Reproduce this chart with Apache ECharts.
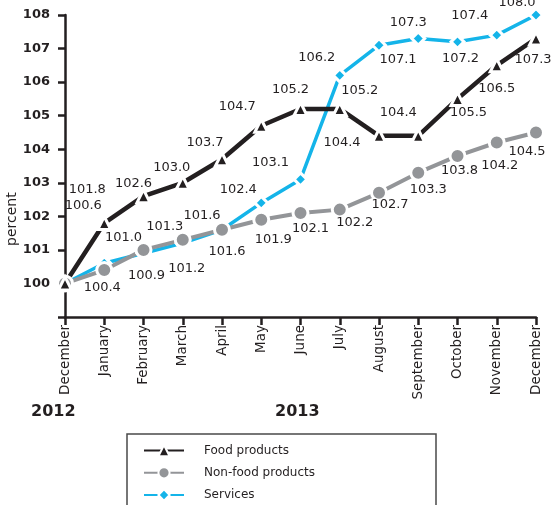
<!DOCTYPE html>
<html>
<head>
<meta charset="utf-8">
<script src="https://cdn.jsdelivr.net/npm/echarts@6/dist/echarts.min.js"></script>
<style>
html,body{margin:0;padding:0;background:#fff;}
#chart{width:553px;height:505px;}
</style>
</head>
<body>
<div id="chart"></div>
<script>
// ---- data ----
var categories = ['December','January','February','March','April','May','June','July','August','September','October','November','December'];
var foodValues = [100, 101.8, 102.6, 103.0, 103.7, 104.7, 105.2, 105.2, 104.4, 104.4, 105.5, 106.5, 107.3];
var nonFoodValues = [100, 100.4, 101.0, 101.3, 101.6, 101.9, 102.1, 102.2, 102.7, 103.3, 103.8, 104.2, 104.5];
var servicesValues = [100, 100.6, 100.9, 101.2, 101.6, 102.4, 103.1, 106.2, 107.1, 107.3, 107.2, 107.4, 108.0];
var seriesNames = ['Food products', 'Non-food products', 'Services'];
var yearLabels = ['2012', '2013'];
var yTickLabels = ['100','101','102','103','104','105','106','107','108'];

// ---- label placement (style only) ----
var foodOffsets = [null,[-17,-33],[-10,-13],[-11,-15],[-17,-17],[-24,-19],[-10,-19],[20,-18],[-37,7],[-20,-23],[11,14],[0,23],[-3,21]];
var nonFoodOffsets = [null,[-2,18],[-20,-12],[-18,-13],[-20,-14],[12,20],[10,16],[15,13],[11,12],[10,17],[2,15],[3,23],[-9,19]];
var servicesOffsets = [null,[-21,-58],[3,22],[4,25],[5,22],[-23,-13],[-30,-17],[-23,-18],[19,14],[-10,-16],[3,17],[-27,-20],[-19,-12]];

var FONT = '"DejaVu Sans", sans-serif';
var DARK = '#231f20';

function buildData(values, offsets) {
  return values.map(function (v, i) {
    return {
      value: v,
      label: offsets[i] ? { show: true, offset: offsets[i] } : { show: false }
    };
  });
}

function makeSeries(name, values, offsets, color, width, symbol, size) {
  return {
    name: name,
    type: 'line',
    data: buildData(values, offsets),
    symbol: symbol,
    symbolSize: size,
    showAllSymbol: true,
    lineStyle: { color: color, width: width },
    itemStyle: { color: color, borderColor: '#ffffff', borderWidth: 3 },
    label: {
      show: true,
      position: 'inside',
      color: DARK,
      fontFamily: FONT,
      fontSize: 13,
      textBorderWidth: 0,
      formatter: function (p) { return p.value.toFixed(1); }
    },
    emphasis: { disabled: true },
    animation: false
  };
}

var chart = echarts.init(document.getElementById('chart'), null, { renderer: 'canvas' });

chart.setOption({
  animation: false,
  grid: { left: 65, right: 17, top: 15, bottom: 188, containLabel: false },
  xAxis: {
    type: 'category',
    data: categories,
    boundaryGap: false,
    axisLine: { show: true, lineStyle: { color: DARK, width: 2.5 } },
    axisTick: { show: true, length: 8, lineStyle: { color: DARK, width: 2.5 } },
    axisLabel: { rotate: 90, margin: 8, color: DARK, fontFamily: FONT, fontSize: 13.5, interval: 0 },
    splitLine: { show: false }
  },
  yAxis: {
    type: 'value',
    min: 99,
    max: 108,
    interval: 1,
    axisLine: { show: true, lineStyle: { color: DARK, width: 2.5 } },
    axisTick: { show: true, length: 7, lineStyle: { color: DARK, width: 2.5 } },
    axisLabel: {
      margin: 15,
      color: DARK,
      fontFamily: FONT,
      fontSize: 13,
      fontWeight: 'bold',
      formatter: function (v) {
        var s = String(Math.round(v));
        return yTickLabels.indexOf(s) >= 0 ? s : '';
      }
    },
    splitLine: { show: false }
  },
  legend: {
    data: seriesNames,
    orient: 'vertical',
    left: 127,
    top: 434,
    height: 70,
    itemWidth: 40,
    itemHeight: 14,
    itemGap: 9,
    padding: [10, 121, 20, 16],
    borderColor: '#4a4a4a',
    borderWidth: 1.5,
    textStyle: { color: DARK, fontFamily: FONT, fontSize: 12, padding: [0, 0, 0, 15] },
    selectedMode: false
  },
  graphic: [
    { type: 'text', style: { text: 'percent', fill: DARK, font: '14px ' + FONT }, rotation: Math.PI / 2,
      x: 5, y: 246 },
    { type: 'text', left: 31, top: 404, style: { text: yearLabels[0], fill: DARK, font: 'bold 16px ' + FONT } },
    { type: 'text', left: 275, top: 404, style: { text: yearLabels[1], fill: DARK, font: 'bold 16px ' + FONT } }
  ],
  series: [
    makeSeries(seriesNames[2], servicesValues, servicesOffsets, '#14b4e9', 3.5, 'diamond', 13),
    makeSeries(seriesNames[1], nonFoodValues, nonFoodOffsets, '#939598', 4, 'circle', 15),
    makeSeries(seriesNames[0], foodValues, foodOffsets, DARK, 4.5, 'triangle', 13)
  ]
});
</script>
</body>
</html>
